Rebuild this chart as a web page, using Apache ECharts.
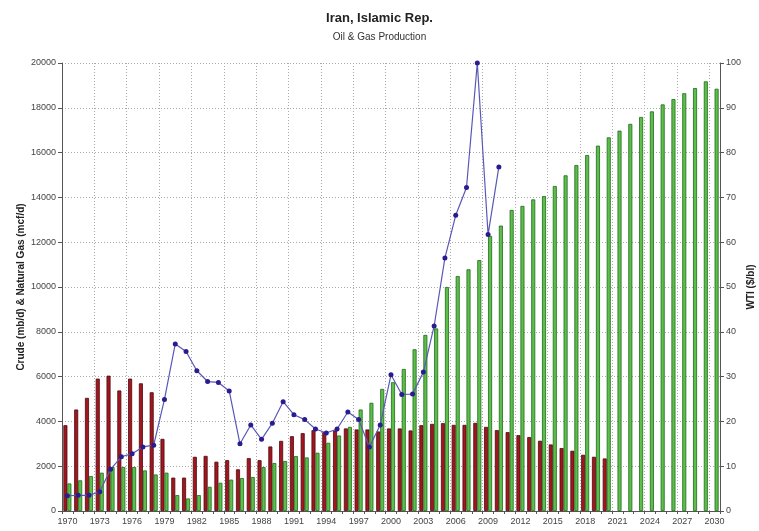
<!DOCTYPE html>
<html>
<head>
<meta charset="utf-8">
<script src="https://cdn.jsdelivr.net/npm/echarts@6/dist/echarts.min.js"></script>
<style>html,body{margin:0;padding:0;background:#fff;}#c{width:759px;height:531px;}</style>
</head>
<body>
<div id="c"></div>
<script>
const years = [];
for (let y = 1970; y <= 2030; y++) years.push(String(y));

const crude = [3830,4530,5050,5910,6040,5380,5910,5700,5300,3220,1490,1490,2420,2460,2200,2270,1860,2360,2270,2880,3130,
  3340,3475,3610,3520,3595,3685,3640,3640,3550,3685,3685,3595,3830,3890,3920,3845,3845,3935,3755,3610,3520,3385,3300,3135,2970,2810,2690,2510,2420,2345,
  null,null,null,null,null,null,null,null,null,null];

const gas = [1230,1370,1560,1710,1960,1960,1960,1810,1630,1710,710,560,710,1080,1260,1400,1470,1515,1960,2140,2230,
  2450,2390,2600,3045,3370,3755,4530,4830,5450,5750,6340,7220,7860,8150,10000,10490,10790,11200,12280,12740,13440,13620,13910,14060,14510,14985,15445,15890,16310,16680,
  16980,17280,17590,17840,18150,18390,18650,18880,19180,18850];

const wti = [3.4,3.5,3.5,4.3,9.3,12.1,12.8,14.3,14.7,24.9,37.3,35.6,31.3,28.9,28.7,26.8,15.0,19.2,16.0,19.6,24.4,
  21.5,20.4,18.3,17.4,18.3,22.1,20.4,14.3,19.2,30.4,26.0,26.1,31.0,41.3,56.5,66.0,72.2,100,61.7,76.8,
  null,null,null,null,null,null,null,null,null,null,null,null,null,null,null,null,null,null,null,null];

const leftTicks = {min:0, max:20000, interval:2000};
const rightTicks = {min:0, max:100, interval:10};

const font = 'Liberation Sans';
const gridLine = {color:'#aaa', type:[1,2], width:1};
const chart = echarts.init(document.getElementById('c'));
chart.setOption({
  backgroundColor:'#fff',
  animation:false,
  textStyle:{fontFamily:font},
  title:{
    text:'Iran, Islamic Rep.',
    subtext:'Oil & Gas Production',
    left:'center', top:7, itemGap:7,
    textStyle:{fontSize:13, fontWeight:'bold', color:'#222', fontFamily:font},
    subtextStyle:{fontSize:10, color:'#333', fontFamily:font}
  },
  grid:{left:62, right:39, top:63, bottom:20, containLabel:false, outerBoundsMode:'none'},
  xAxis:{
    type:'category', data:years, boundaryGap:true,
    axisLine:{lineStyle:{color:'#555', width:1}},
    axisTick:{show:true, interval:0, length:3, lineStyle:{color:'#555'}},
    axisLabel:{interval:2, fontSize:9, color:'#444', margin:6, fontFamily:font},
    splitLine:{show:true, interval:2, lineStyle:gridLine}
  },
  yAxis:[{
    type:'value', min:leftTicks.min, max:leftTicks.max, interval:leftTicks.interval,
    name:'Crude (mb/d) & Natural Gas (mcf/d)', nameLocation:'middle', nameGap:36, nameRotate:90,
    nameMoveOverlap:false,
    nameTextStyle:{fontSize:10, fontWeight:'bold', color:'#222', fontFamily:font},
    axisLine:{show:true, lineStyle:{color:'#555', width:1}},
    axisTick:{show:true, length:4, lineStyle:{color:'#555'}},
    axisLabel:{fontSize:9, color:'#444', margin:6, fontFamily:font, formatter:function(v){return String(v);}},
    splitLine:{show:true, lineStyle:gridLine}
  },{
    type:'value', min:rightTicks.min, max:rightTicks.max, interval:rightTicks.interval, position:'right',
    name:'WTI ($/bl)', nameLocation:'middle', nameGap:26, nameRotate:90,
    nameMoveOverlap:false,
    nameTextStyle:{fontSize:10, fontWeight:'bold', color:'#222', fontFamily:font},
    axisLine:{show:true, lineStyle:{color:'#555', width:1}},
    axisTick:{show:true, length:4, lineStyle:{color:'#555'}},
    axisLabel:{fontSize:9, color:'#444', margin:6, fontFamily:font, formatter:function(v){return String(v);}},
    splitLine:{show:false}
  }],
  series:[
    {type:'bar', name:'Crude', data:crude, barWidth:4, barGap:'0%',
     itemStyle:{color:'#a3161f', borderColor:'#4a0a0e', borderWidth:0.8}},
    {type:'bar', name:'Gas', data:gas, barWidth:4,
     itemStyle:{color:'#5cbf4a', borderColor:'#1f6a1a', borderWidth:0.8}},
    {type:'line', name:'WTI', yAxisIndex:1, data:wti, connectNulls:false,
     symbol:'circle', symbolSize:5, z:5,
     lineStyle:{color:'#5858b8', width:1.2},
     itemStyle:{color:'#2a1c90'}}
  ]
});
</script>
</body>
</html>
